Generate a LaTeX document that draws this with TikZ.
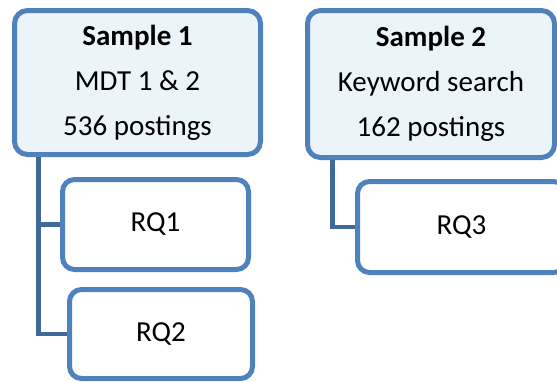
\documentclass[tikz,border=0pt]{standalone}
\usepackage{fontspec}
\setmainfont{Carlito}
\definecolor{boxline}{RGB}{79,129,189}
\definecolor{boxfill}{RGB}{235,244,248}
\definecolor{linkline}{RGB}{64,104,155}
\tikzset{
  samplebox/.style={draw=boxline, fill=boxfill, line width=5pt, rounded corners=13pt,
    align=center, font=\fontsize{29}{45}\selectfont, inner sep=0pt},
  rqbox/.style={draw=boxline, fill=white, line width=5pt, rounded corners=12pt,
    font=\fontsize{29}{33}\selectfont, inner sep=0pt},
  link/.style={draw=linkline, line width=4.5pt},
}
\begin{document}
\begin{tikzpicture}[x=1pt, y=-1pt]
  \useasboundingbox (0,0) rectangle (557,381);
  \clip (0,0) rectangle (557,381);

  % sample 1 and its research questions
  \node[samplebox, minimum width=246pt, minimum height=144pt] (s1) at (137.5,82.5)
    {\textbf{Sample 1}\\MDT 1 \& 2\\536 postings};
  \node[rqbox, minimum width=186pt, minimum height=90pt] (rq1) at (155.5,224.5) {RQ1};
  \node[rqbox, minimum width=183pt, minimum height=89pt] (rq2) at (161,334) {RQ2};

  % sample 2 and its research question
  \node[samplebox, minimum width=247pt, minimum height=147pt] (s2) at (431,84)
    {\textbf{Sample 2}\\Keyword search\\162 postings};
  \node[rqbox, minimum width=208pt, minimum height=91pt] (rq3) at (461.5,227) {RQ3};

  % tree connectors
  \draw[link] ([xshift=26.5pt]s1.south west) |- (rq2.west);
  \draw[link] ([xshift=26.5pt]s1.south west) |- (rq1.west);
  \draw[link] ([xshift=27.3pt]s2.south west) |- (rq3.west);
\end{tikzpicture}
\end{document}
